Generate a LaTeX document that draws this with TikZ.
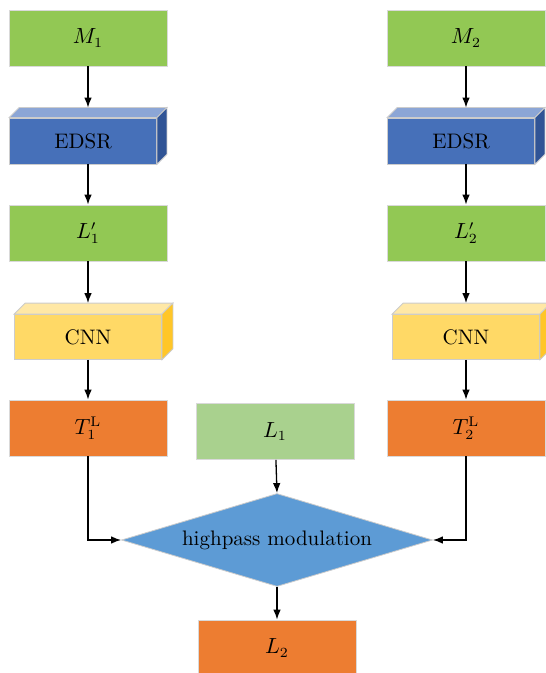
\documentclass[tikz,border=0pt]{standalone}
\usepackage{amsmath}
\usepackage{tikz}
\usetikzlibrary{arrows.meta, positioning, shapes.geometric, calc}
\definecolor{inputcol}{RGB}{146,200,84}
\definecolor{lowcol}{RGB}{169,209,142}
\definecolor{edsrcol}{RGB}{70,112,185}
\definecolor{edsrtop}{RGB}{140,166,214}
\definecolor{edsrside}{RGB}{48,84,150}
\definecolor{cnncol}{RGB}{255,217,102}
\definecolor{cnntop}{RGB}{255,232,166}
\definecolor{cnnside}{RGB}{255,198,40}
\definecolor{outcol}{RGB}{237,125,49}
\definecolor{modcol}{RGB}{93,155,213}

\begin{document}
\begin{tikzpicture}[x=0.5pt, y=-0.5pt, font=\fontsize{10.5}{12.6}\selectfont,
    box/.style={draw=white!85!black, minimum width=79pt, minimum height=28pt, inner sep=0pt},
    cube/.style={draw=black!20, minimum width=73.5pt, minimum height=23pt, inner sep=0pt},
    arr/.style={-{Latex[length=5pt,width=3.8pt]}, line width=0.65pt}]
  \useasboundingbox (0,0) rectangle (545,673);

  \foreach \i/\xp in {1/88, 2/466} {
    % input
    \node[box,fill=inputcol] (m\i) at (\xp,38) {$M_\i$};

    % EDSR block
    \node[cube,fill=edsrcol] (edsr\i) at (\xp-5,141) {EDSR};
    \filldraw[draw=black!20,fill=edsrtop] (edsr\i.north west) -- ++(5pt,5pt)
      -- ($(edsr\i.north east)+(5pt,5pt)$) -- (edsr\i.north east) -- cycle;
    \filldraw[draw=black!20,fill=edsrside] (edsr\i.north east) -- ++(5pt,5pt)
      -- ($(edsr\i.south east)+(5pt,5pt)$) -- (edsr\i.south east) -- cycle;
    \coordinate (edsrback\i) at ($(edsr\i.north)+(5pt,5pt)$);

    \node[box,fill=inputcol] (lp\i) at (\xp,233) {$L_\i'$};

    % CNN block
    \node[cube,minimum height=22.5pt,fill=cnncol] (cnn\i) at (\xp,337) {CNN};
    \filldraw[draw=black!20,fill=cnntop] (cnn\i.north west) -- ++(5.5pt,5.5pt)
      -- ($(cnn\i.north east)+(5.5pt,5.5pt)$) -- (cnn\i.north east) -- cycle;
    \filldraw[draw=black!20,fill=cnnside] (cnn\i.north east) -- ++(5.5pt,5.5pt)
      -- ($(cnn\i.south east)+(5.5pt,5.5pt)$) -- (cnn\i.south east) -- cycle;
    \coordinate (cnnback\i) at ($(cnn\i.north)+(5.5pt,5.5pt)$);

    \node[box,fill=outcol] (t\i) at (\xp,428) {$T_\i^{\mathrm{L}}$};

    \draw[arr] (m\i) -- (m\i |- edsrback\i);
    \draw[arr] (m\i |- edsr\i.south) -- (lp\i);
    \draw[arr] (lp\i) -- (lp\i |- cnnback\i);
    \draw[arr] (cnn\i) -- (t\i);
  }

  % fusion
  \node[box,fill=lowcol] (l1) at (275,431.5) {$L_1$};
  \node[diamond,fill=modcol,draw=white!80!black,inner sep=0pt,shape aspect=3.3,
        minimum width=155.5pt,minimum height=46.5pt] (mod) at (277,540)
    {highpass modulation};
  \node[box,fill=outcol] (l2) at (277,648) {$L_2$};

  \draw[arr] (t1) |- (mod.west);
  \draw[arr] (t2) |- (mod.east);
  \draw[arr] (l1) -- (mod.north);
  \draw[arr] (mod) -- (l2);
\end{tikzpicture}
\end{document}
